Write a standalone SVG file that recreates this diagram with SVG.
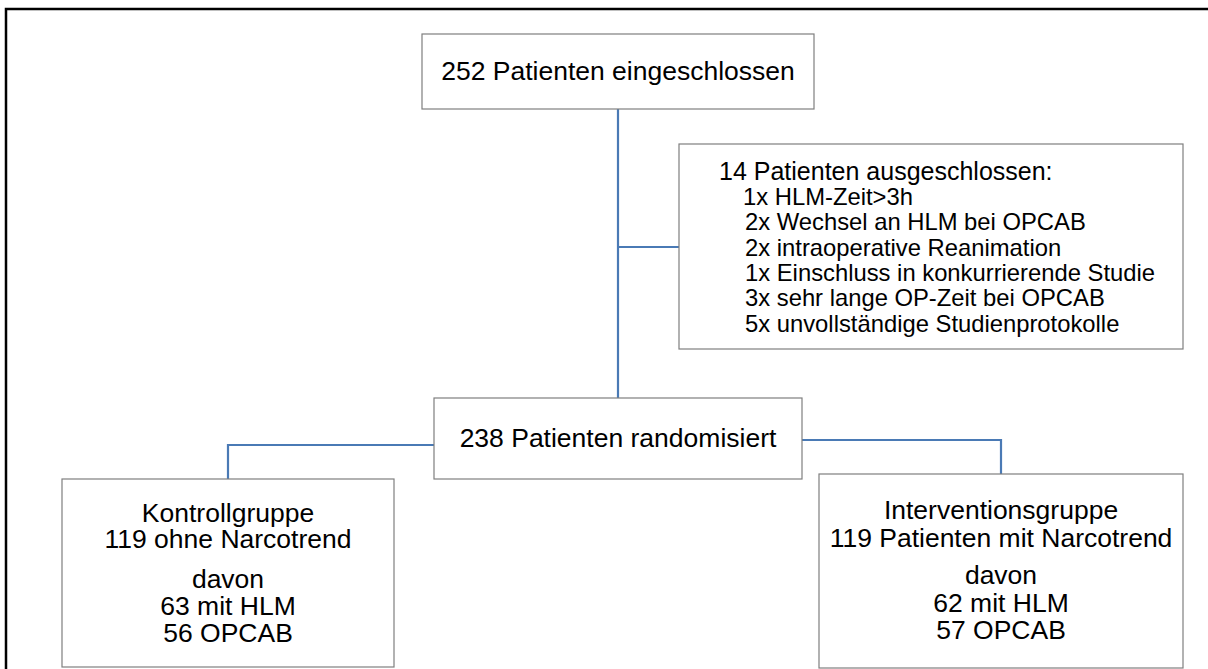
<svg xmlns="http://www.w3.org/2000/svg" width="1208" height="669" viewBox="0 0 1208 669">
<style>
.box{fill:#fff;stroke:#7f7f7f;stroke-width:1.2}
.con{fill:none;stroke:#4a7ab5;stroke-width:2.2}
text{font-family:"Liberation Sans",Arial,sans-serif;fill:#000}
.big{font-size:26.5px}
.mid{font-size:25px}
.small{font-size:23.8px}
.c{text-anchor:middle}
</style>
<rect x="0" y="0" width="1208" height="669" fill="#fff"/>
<rect x="6" y="9" width="1400" height="900" fill="none" stroke="#000" stroke-width="2.5"/>
<g id="connectors">
<path class="con" d="M618 109 V398"/>
<path class="con" d="M618 247 H679"/>
<path class="con" d="M434 445 H228 V479"/>
<path class="con" d="M802 440 H1001 V474"/>
</g>
<g id="n-eingeschlossen">
<rect class="box" x="422" y="34" width="392" height="75"/>
<text class="big c" x="618" y="80">252 Patienten eingeschlossen</text>
</g>
<g id="n-ausgeschlossen">
<rect class="box" x="679" y="144" width="504" height="205"/>
<text class="mid" x="719" y="180">14 Patienten ausgeschlossen:</text>
<text class="small" x="743" y="205">1x HLM-Zeit&gt;3h</text>
<text class="small" x="745" y="230.3">2x Wechsel an HLM bei OPCAB</text>
<text class="small" x="745" y="255.6">2x intraoperative Reanimation</text>
<text class="small" x="745" y="280.9">1x Einschluss in konkurrierende Studie</text>
<text class="small" x="745" y="306.2">3x sehr lange OP-Zeit bei OPCAB</text>
<text class="small" x="745" y="331.5">5x unvollständige Studienprotokolle</text>
</g>
<g id="n-randomisiert">
<rect class="box" x="434" y="398" width="368" height="81"/>
<text class="big c" x="618" y="447">238 Patienten randomisiert</text>
</g>
<g id="n-kontroll">
<rect class="box" x="62" y="479" width="332" height="188"/>
<text class="big c" x="228" y="521.5">Kontrollgruppe</text>
<text class="big c" x="228" y="548.3">119 ohne Narcotrend</text>
<text class="big c" x="228" y="587.7">davon</text>
<text class="big c" x="228" y="615">63 mit HLM</text>
<text class="big c" x="228" y="641.7">56 OPCAB</text>
</g>
<g id="n-intervention">
<rect class="box" x="819" y="474" width="364" height="194"/>
<text class="big c" x="1001" y="519">Interventionsgruppe</text>
<text class="big c" x="1001" y="546.7">119 Patienten mit Narcotrend</text>
<text class="big c" x="1001" y="584">davon</text>
<text class="big c" x="1001" y="612.3">62 mit HLM</text>
<text class="big c" x="1001" y="639.3">57 OPCAB</text>
</g>
</svg>
